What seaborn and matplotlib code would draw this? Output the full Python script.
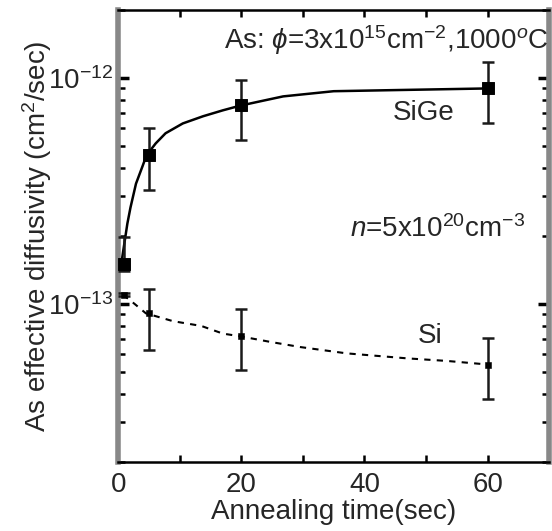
"""As effective diffusivity vs annealing time (SiGe and Si)"""
import matplotlib

matplotlib.use("Agg")
from matplotlib import pyplot as plt
from matplotlib.ticker import (FixedLocator, LogFormatterSciNotation,
                               LogLocator, MultipleLocator, NullFormatter)
from pandas import DataFrame
import seaborn as sns

# measured points
time = [1, 5, 20, 60]
sige = [1.5e-13, 4.55e-13, 7.6e-13, 9.0e-13]
sige_lo = [1.4e-13, 3.2e-13, 5.3e-13, 6.3e-13]
sige_hi = [1.98e-13, 6.0e-13, 9.8e-13, 1.18e-12]
si = [1.1e-13, 9.1e-14, 7.2e-14, 5.4e-14]
si_lo = [1.08e-13, 6.25e-14, 5.1e-14, 3.8e-14]
si_hi = [1.12e-13, 1.17e-13, 9.5e-14, 7.1e-14]

# fitted curves
sige_fit_t = [0.5, 1.5, 2.0, 2.9, 4.0, 4.6, 6.1, 7.7, 10.5, 13.8, 17.0,
              19.8, 23.6, 26.8, 35, 45, 60]
sige_fit = [1.5e-13, 2.27e-13, 2.67e-13, 3.41e-13, 4.1e-13, 4.55e-13,
            5.14e-13, 5.7e-13, 6.3e-13, 6.78e-13, 7.2e-13, 7.55e-13,
            7.95e-13, 8.3e-13, 8.75e-13, 8.85e-13, 9.0e-13]
si_fit_t = [0.8, 2.7, 4.5, 8.9, 13.5, 17.0, 19.8, 24.7, 29.6, 37.1, 46.9,
            53.4, 60]
si_fit = [1.1e-13, 1.0e-13, 9.1e-14, 8.4e-14, 8.0e-14, 7.4e-14, 7.2e-14,
          6.8e-14, 6.45e-14, 6.05e-14, 5.75e-14, 5.6e-14, 5.4e-14]

y_major = [1e-13, 1e-12]

sns.set_style("ticks")
plt.rcParams["font.family"] = ["Liberation Sans", "DejaVu Sans"]
plt.rcParams["mathtext.fontset"] = "custom"
plt.rcParams["mathtext.rm"] = "Liberation Sans"
plt.rcParams["mathtext.it"] = "Liberation Sans:italic"

fig = plt.figure(figsize=(5.52, 5.31), dpi=100)
ax = fig.add_axes([0.214, 0.130, 0.781, 0.851])

pts = DataFrame({"t": time, "SiGe": sige, "Si": si})
sns.lineplot(x=sige_fit_t, y=sige_fit, color="black", linewidth=1.8, ax=ax)
sns.lineplot(x=si_fit_t, y=si_fit, color="black", linewidth=1.5,
             linestyle=(0, (3, 3)), ax=ax)
sns.scatterplot(data=pts, x="t", y="SiGe", marker="s", s=70, color="black",
                edgecolor="black", ax=ax, zorder=4)
sns.scatterplot(data=pts, x="t", y="Si", marker="s", s=25, color="black",
                edgecolor="black", ax=ax, zorder=4)

for lo, mid, hi in ((sige_lo, sige, sige_hi), (si_lo, si, si_hi)):
    err = [[m - l for m, l in zip(mid, lo)], [h - m for m, h in zip(mid, hi)]]
    ax.errorbar(time, mid, yerr=err, fmt="none", ecolor="#1a1a1a",
                elinewidth=1.8, capsize=4, capthick=1.8, zorder=3)

ax.set_yscale("log")
ax.set_xlim(0, 70)
ax.set_ylim(2e-14, 2e-12)
ax.xaxis.set_major_locator(MultipleLocator(20))
ax.xaxis.set_minor_locator(MultipleLocator(10))
ax.yaxis.set_major_locator(FixedLocator(y_major))
ax.yaxis.set_major_formatter(LogFormatterSciNotation())
ax.yaxis.set_minor_locator(LogLocator(base=10, subs=range(2, 10)))
ax.yaxis.set_minor_formatter(NullFormatter())
ax.tick_params(which="both", direction="in", top=True, right=True,
               length=5, width=1.8, labelsize=20, color="black")
ax.tick_params(axis="y", which="major", length=8, width=2.5)
ax.tick_params(axis="x", pad=7)

for side in ("left", "right"):
    ax.spines[side].set_color("#888888")
    ax.spines[side].set_linewidth(4)
for side in ("top", "bottom"):
    ax.spines[side].set_color("black")
    ax.spines[side].set_linewidth(1.8)

ax.set_xlabel("Annealing time(sec)", fontsize=20, labelpad=1)
ax.set_ylabel("As effective diffusivity (cm$^2$/sec)", fontsize=20,
              labelpad=-4)

ax.text(0.998, 0.934, r"As: $\phi$=3x10$^{15}$cm$^{-2}$,1000$^o$C",
        transform=ax.transAxes, ha="right", va="center", fontsize=20)
ax.text(54.7, 7.0e-13, "SiGe", ha="right", va="center", fontsize=20)
ax.text(66.1, 2.15e-13, r"$n$=5x10$^{20}$cm$^{-3}$", ha="right", va="center",
        fontsize=20)
ax.text(52.6, 7.2e-14, "Si", ha="right", va="center", fontsize=20)

fig.savefig("out.png", dpi=100)
